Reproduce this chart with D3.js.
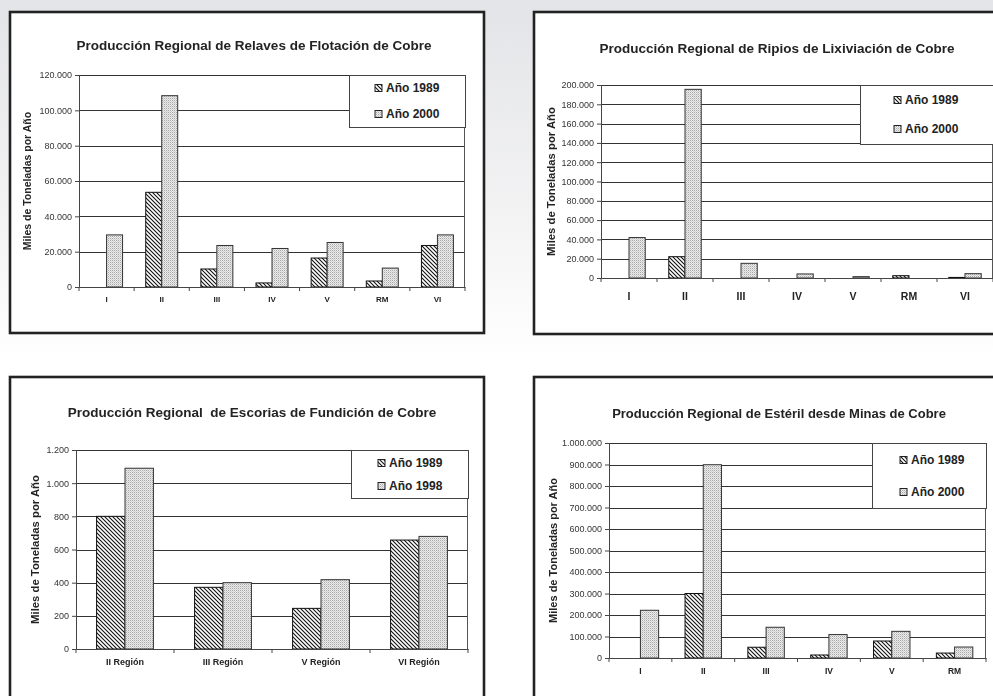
<!DOCTYPE html>
<html><head><meta charset="utf-8">
<script src="https://cdn.jsdelivr.net/npm/d3@7"></script>
<style>
html,body{margin:0;padding:0;background:#fff;overflow:hidden}
svg{display:block;font-family:"Liberation Sans",Arial,sans-serif}
text{-webkit-font-smoothing:antialiased}
</style></head>
<body>
<svg id="chart" width="993" height="696"></svg>
<script>
// ---------- DATA ----------
const relavesTitle = "Producción Regional de Relaves de Flotación de Cobre";
const relavesCats = ["I","II","III","IV","V","RM","VI"];
const relavesSeries = ["Año 1989","Año 2000"];
const relaves1989 = [0, 53600, 10200, 2300, 16400, 3400, 23500];
const relaves2000 = [29500, 108300, 23500, 21800, 25200, 10700, 29500];
const relavesTicks = [0, 20000, 40000, 60000, 80000, 100000, 120000];

const ripiosTitle = "Producción Regional de Ripios de Lixiviación de Cobre";
const ripiosCats = ["I","II","III","IV","V","RM","VI"];
const ripiosSeries = ["Año 1989","Año 2000"];
const ripios1989 = [0, 22100, 0, 0, 0, 2400, 600];
const ripios2000 = [41900, 195500, 15200, 4200, 1400, 0, 4500];
const ripiosTicks = [0,20000,40000,60000,80000,100000,120000,140000,160000,180000,200000];

const escoriasTitle = "Producción Regional  de Escorias de Fundición de Cobre";
const escoriasCats = ["II Región","III Región","V Región","VI Región"];
const escoriasSeries = ["Año 1989","Año 1998"];
const escorias1989 = [800, 372, 245, 657];
const escorias1998 = [1090, 400, 418, 679];
const escoriasTicks = [0, 200, 400, 600, 800, 1000, 1200];

const esterilTitle = "Producción Regional de Estéril desde Minas de Cobre";
const esterilCats = ["I","II","III","IV","V","RM"];
const esterilSeries = ["Año 1989","Año 2000"];
const esteril1989 = [0, 300000, 50000, 14000, 79000, 23000];
const esteril2000 = [222000, 899000, 143000, 109000, 124000, 51000];
const esterilTicks = [0,100000,200000,300000,400000,500000,600000,700000,800000,900000,1000000];

const yLabel = "Miles de Toneladas por Año";

// ---------- LAYOUT ----------
const panels = [
 {title: relavesTitle, cats: relavesCats, series: relavesSeries, s1: relaves1989, s2: relaves2000, ticks: relavesTicks,
  frame:{x:10,y:12,w:474,h:321}, plot:{l:79,r:465,t:75,b:287}, titleX:254, titleY:45, titleSize:13.5,
  ylabelX:27, ylabelSize:10.5, xlabelY:299, xlabelSize:8,
  legendBox:{x:349,y:75,w:116,h:52}, legendRows:[88,114], swatchX:375},
 {title: ripiosTitle, cats: ripiosCats, series: ripiosSeries, s1: ripios1989, s2: ripios2000, ticks: ripiosTicks,
  frame:{x:534,y:12,w:520,h:322}, plot:{l:601,r:993,t:85,b:278}, titleX:777, titleY:48, titleSize:13.5,
  ylabelX:551, ylabelSize:11.3, xlabelY:296, xlabelSize:10.5,
  legendBox:{x:860,y:85,w:200,h:59}, legendRows:[100,129], swatchX:894},
 {title: escoriasTitle, cats: escoriasCats, series: escoriasSeries, s1: escorias1989, s2: escorias1998, ticks: escoriasTicks,
  frame:{x:10,y:377,w:474,h:400}, plot:{l:76,r:468,t:450,b:649}, titleX:252, titleY:412, titleSize:13.5,
  ylabelX:35, ylabelSize:11.3, xlabelY:662, xlabelSize:9,
  legendBox:{x:351,y:450,w:117,h:48}, legendRows:[463,486], swatchX:378},
 {title: esterilTitle, cats: esterilCats, series: esterilSeries, s1: esteril1989, s2: esteril2000, ticks: esterilTicks,
  frame:{x:534,y:377,w:520,h:400}, plot:{l:609,r:986,t:443,b:658}, titleX:779, titleY:413, titleSize:13,
  ylabelX:553, ylabelSize:11, xlabelY:671, xlabelSize:8.5,
  legendBox:{x:872,y:443,w:114,h:65}, legendRows:[460,492], swatchX:900}
];

const fmt = d3.formatLocale({decimal:",", thousands:".", grouping:[3], currency:["$",""]}).format(",d");

const svg = d3.select("#chart");
const defs = svg.append("defs");

// background gradient
const bg = defs.append("linearGradient").attr("id","bgGrad").attr("x1",0).attr("y1",0).attr("x2",0).attr("y2",1);
bg.append("stop").attr("offset","0%").attr("stop-color","#e3e4e7");
bg.append("stop").attr("offset","60%").attr("stop-color","#f3f3f4");
bg.append("stop").attr("offset","100%").attr("stop-color","#ffffff");
svg.append("rect").attr("width",993).attr("height",696).attr("fill","#fff");
svg.append("rect").attr("width",993).attr("height",360).attr("fill","url(#bgGrad)");

// patterns
const hatch = defs.append("pattern").attr("id","hatch").attr("patternUnits","userSpaceOnUse")
  .attr("width",4).attr("height",4);
hatch.append("rect").attr("width",4).attr("height",4).attr("fill","#fff");
hatch.append("path").attr("d","M-1,-1 L5,5 M-1,3 L1,5 M3,-1 L5,1").attr("stroke","#111").attr("stroke-width",1.1);

const dots = defs.append("pattern").attr("id","dots").attr("patternUnits","userSpaceOnUse")
  .attr("width",2).attr("height",2);
dots.append("rect").attr("width",2).attr("height",2).attr("fill","#ebebeb");
dots.append("rect").attr("width",1).attr("height",1).attr("fill","#a9a9a9");
dots.append("rect").attr("x",1).attr("y",1).attr("width",1).attr("height",1).attr("fill","#cfcfcf");

const fills = ["url(#hatch)","url(#dots)"];
const strokes = ["#111","#333"];

panels.forEach(p => {
  const g = svg.append("g");
  // frame
  g.append("rect").attr("x",p.frame.x).attr("y",p.frame.y).attr("width",p.frame.w).attr("height",p.frame.h)
    .attr("fill","#fff").attr("stroke","#222").attr("stroke-width",2.6);

  const x = d3.scaleBand().domain(p.cats).range([p.plot.l, p.plot.r]);
  const ymax = p.ticks[p.ticks.length-1];
  const y = d3.scaleLinear().domain([0, ymax]).range([p.plot.b, p.plot.t]);
  const xs = d3.scaleBand().domain([0,1]).range([0, x.bandwidth()*0.58]);
  const off = x.bandwidth()*(1-0.58)/2;

  // gridlines
  g.append("g").selectAll("line").data(p.ticks.filter(t => t > 0)).join("line")
    .attr("x1",p.plot.l).attr("x2",p.plot.r)
    .attr("y1",d => Math.round(y(d))+0.5).attr("y2",d => Math.round(y(d))+0.5)
    .attr("stroke","#333").attr("stroke-width",1);
  // right border of plot
  g.append("line").attr("x1",p.plot.r-0.5).attr("x2",p.plot.r-0.5).attr("y1",p.plot.t).attr("y2",p.plot.b)
    .attr("stroke","#555").attr("stroke-width",1);

  // bars
  const rows = p.cats.map((c,i) => ({c, v:[p.s1[i], p.s2[i]]}));
  rows.forEach(r => {
    r.v.forEach((v,k) => {
      if (v <= 0) return;
      g.append("rect")
        .attr("x", x(r.c) + off + xs(k))
        .attr("y", y(v))
        .attr("width", xs.bandwidth())
        .attr("height", y(0) - y(v))
        .attr("fill", fills[k]).attr("stroke", strokes[k]).attr("stroke-width",1);
    });
  });

  const tg = g.append("g").attr("opacity",0.995);

  // y axis
  const ya = tg.append("g").attr("transform",`translate(${p.plot.l},0)`)
    .call(d3.axisLeft(y).tickValues(p.ticks).tickFormat(fmt).tickSize(4).tickPadding(3));
  ya.select(".domain").attr("stroke","#444");
  ya.selectAll(".tick line").attr("stroke","#444");
  ya.selectAll("text").attr("font-size",9).attr("fill","#333").attr("font-family","Liberation Sans, Arial, sans-serif");

  // x axis
  const xa = tg.append("g").attr("transform",`translate(0,${p.plot.b})`)
    .call(d3.axisBottom(x).tickSize(0).tickFormat(""));
  xa.select(".domain").attr("stroke","#444").attr("stroke-width",1.2);
  // tick marks at band boundaries
  const bounds = p.cats.map(c => x(c)).concat([p.plot.r]);
  tg.append("g").selectAll("line").data(bounds).join("line")
    .attr("x1",d=>d).attr("x2",d=>d).attr("y1",p.plot.b).attr("y2",p.plot.b+4)
    .attr("stroke","#444");
  tg.append("g").selectAll("text").data(p.cats).join("text")
    .attr("x", d => x(d) + x.bandwidth()/2).attr("y", p.xlabelY)
    .attr("dominant-baseline","central").attr("text-anchor","middle")
    .attr("font-size", p.xlabelSize).attr("font-weight","bold").attr("fill","#222")
    .text(d => d);

  // title
  tg.append("text").attr("x",p.titleX).attr("y",p.titleY)
    .attr("text-anchor","middle").attr("dominant-baseline","central")
    .style("white-space","pre")
    .attr("font-size",p.titleSize).attr("font-weight","bold").attr("fill","#222")
    .text(p.title);

  // y label
  const ym = (p.plot.t + p.plot.b)/2;
  tg.append("text").attr("transform",`translate(${p.ylabelX},${ym}) rotate(-90)`)
    .attr("text-anchor","middle").attr("dominant-baseline","central")
    .attr("font-size",p.ylabelSize).attr("font-weight","bold").attr("fill","#222")
    .text(yLabel);

  // legend
  const lb = p.legendBox;
  g.append("rect").attr("x",lb.x+0.5).attr("y",lb.y+0.5).attr("width",lb.w).attr("height",lb.h)
    .attr("fill","#fff").attr("stroke","#444").attr("stroke-width",1);
  const lg = g.append("g").attr("opacity",0.995);
  p.series.forEach((s,k) => {
    const yy = p.legendRows[k];
    lg.append("rect").attr("x",p.swatchX).attr("y",yy-3.5).attr("width",7).attr("height",7)
      .attr("fill",fills[k]).attr("stroke","#222").attr("stroke-width",1);
    lg.append("text").attr("x",p.swatchX+11).attr("y",yy)
      .attr("dominant-baseline","central").attr("font-size",12).attr("font-weight","bold").attr("fill","#222")
      .text(s);
  });
});
</script>
</body></html>
